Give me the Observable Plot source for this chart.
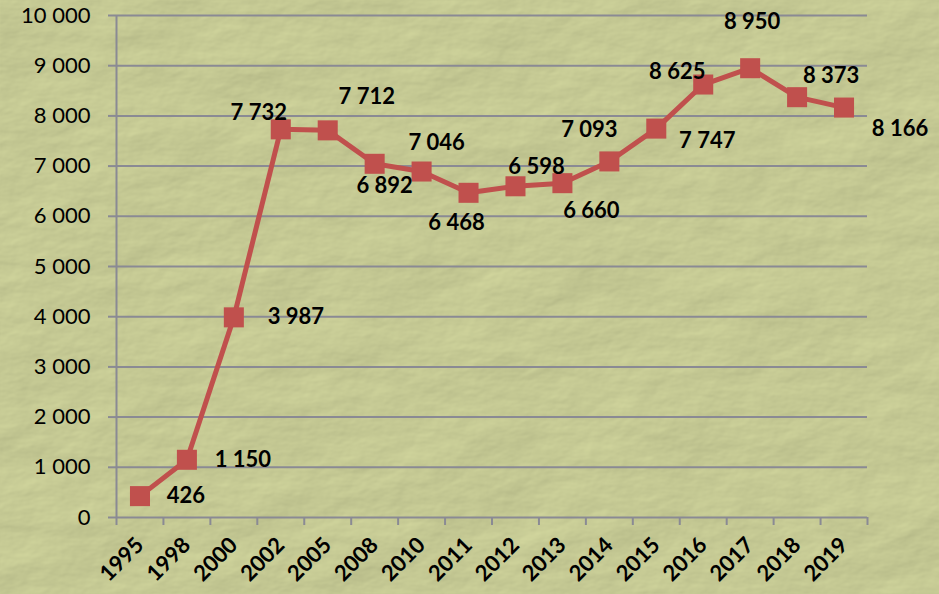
<!DOCTYPE html>
<html>
<head>
<meta charset="utf-8">
<script src="https://cdn.jsdelivr.net/npm/d3@7"></script>
<script src="https://cdn.jsdelivr.net/npm/@observablehq/plot@0.6"></script>
<style>
  html, body { margin: 0; padding: 0; background: #c5c994; }
  #wrap { position: relative; width: 939px; height: 594px; overflow: hidden; }
  #bg { position: absolute; left: 0; top: 0; }
  #chart { position: absolute; left: 0; top: 0; }
</style>
</head>
<body>
<div id="wrap">
  <svg id="bg" width="939" height="594">
    <filter id="tex" x="0" y="0" width="100%" height="100%" color-interpolation-filters="sRGB">
      <feTurbulence type="fractalNoise" baseFrequency="0.01 0.018" numOctaves="5" seed="11" result="n"/>
      <feDiffuseLighting in="n" surfaceScale="1.3" diffuseConstant="1" lighting-color="#f0f5b4">
        <feDistantLight azimuth="225" elevation="55"/>
      </feDiffuseLighting>
    </filter>
    <rect width="939" height="594" filter="url(#tex)"/>
  </svg>
  <div id="chart"></div>
</div>
<script>
// ---- data ----
const years = ["1995","1998","2000","2002","2005","2008","2010","2011","2012","2013","2014","2015","2016","2017","2018","2019"];
const values = [426, 1150, 3987, 7732, 7712, 7046, 6892, 6468, 6598, 6660, 7093, 7747, 8625, 8950, 8373, 8166];
const yTicks = [0, 1000, 2000, 3000, 4000, 5000, 6000, 7000, 8000, 9000, 10000];
// label offsets (pixels) relative to each point, as placed in the original
const labelDx = [46, 56, 62, -22, 39, 62, -37, -12, 21, 29, -20, 51, -26, 2, 34, 56];
const labelDy = [0, 0, 0, -16, -33, -21, 14, 30, -19, 28, -31, 12, -13, -46, -21, 21];

const fmt = v => d3.format(",")(v).replace(/,/g, " ");
const data = years.map((y, i) => ({i, year: y, value: values[i]}));

const grid = "#8a8a94";
const red = "#c0504d";

const chart = Plot.plot({
  width: 939,
  height: 594,
  marginLeft: 116,
  marginRight: 72,
  marginTop: 15,
  marginBottom: 77,
  style: {background: "transparent", fontFamily: "Lato, 'Open Sans', sans-serif", color: "#000"},
  x: {type: "linear", domain: [-0.5, years.length - 0.5]},
  y: {domain: [0, 10000]},
  marks: [
    Plot.ruleY(yTicks, {stroke: grid, strokeWidth: 2}),
    Plot.ruleX([-0.5], {stroke: grid, strokeWidth: 2}),
    Plot.axisY({ticks: yTicks, tickSize: 8, tickPadding: 18, tickFormat: fmt, fontSize: 22, stroke: grid, strokeWidth: 2, label: null}),
    Plot.axisX({ticks: d3.range(-0.5, years.length, 1), tickSize: 8, tickFormat: () => "", stroke: grid, strokeWidth: 2, label: null}),
    Plot.axisX({ticks: d3.range(years.length), tickSize: 0, tickPadding: 24, tickRotate: -45, tickFormat: i => years[i], fontSize: 22, fontWeight: "bold", label: null}),
    Plot.line(data, {x: "i", y: "value", stroke: red, strokeWidth: 5}),
    Plot.dot(data, {x: "i", y: "value", symbol: "square", r: 11.3, fill: red, stroke: "none"}),
    ...data.map((d, k) => Plot.text([d], {
      x: "i", y: "value", text: d => fmt(d.value),
      dx: labelDx[k], dy: labelDy[k],
      fontSize: 22, fontWeight: "bold", fill: "#000", textAnchor: "middle", lineAnchor: "middle"
    }))
  ]
});
document.getElementById("chart").appendChild(chart);
</script>
</body>
</html>
